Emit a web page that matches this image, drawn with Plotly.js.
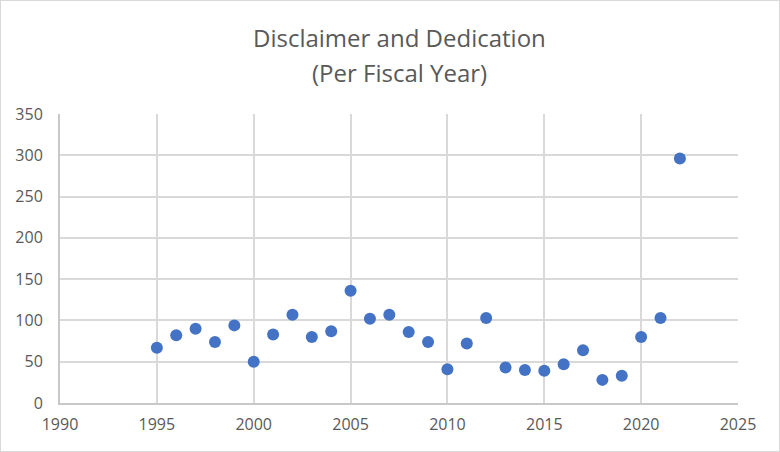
<!DOCTYPE html>
<html>
<head>
<meta charset="utf-8">
<script src="https://cdn.plot.ly/plotly-3.0.1.min.js"></script>
<style>
  html, body { margin: 0; padding: 0; background: #fff; }
  #wrap { position: relative; width: 780px; height: 452px; }
  #chart { width: 780px; height: 452px; }
  #frame { position: absolute; left: 0; top: 0; width: 780px; height: 452px; box-sizing: border-box; border: 1px solid #d9d9d9; pointer-events: none; }
</style>
</head>
<body>
<div id="wrap"><div id="chart"></div><div id="frame"></div></div>
<script>
const years = [1995, 1996, 1997, 1998, 1999, 2000, 2001, 2002, 2003, 2004, 2005, 2006, 2007, 2008, 2009, 2010, 2011, 2012, 2013, 2014, 2015, 2016, 2017, 2018, 2019, 2020, 2021, 2022];
const counts = [67, 82, 90, 74, 94, 50, 83, 107, 80, 87, 136, 102, 107, 86, 74, 41, 72, 103, 43, 40, 39, 47, 64, 28, 33, 80, 103, 296];
const titleLines = ["Disclaimer and Dedication", "(Per Fiscal Year)"];

const fontFam = "'Open Sans', 'Noto Sans', sans-serif";
const textColor = "#595959";

const W = 780, H = 452;
const M = { l: 60, r: 42, t: 114, b: 49 };
const plotH = H - M.t - M.b;
const titleCentersPx = [37, 72];

const trace = {
  type: "scatter",
  mode: "markers",
  x: years,
  y: counts,
  marker: { color: "#4472C4", size: 12, line: { width: 0 } },
  hoverinfo: "x+y"
};

const annotations = titleLines.map((t, i) => ({
  text: t,
  xref: "paper",
  yref: "paper",
  x: 0.5,
  y: 1 + (M.t - titleCentersPx[i]) / plotH,
  xanchor: "center",
  yanchor: "middle",
  showarrow: false,
  font: { family: fontFam, size: 24, color: textColor }
}));

const layout = {
  width: W,
  height: H,
  margin: M,
  paper_bgcolor: "#ffffff",
  plot_bgcolor: "#ffffff",
  showlegend: false,
  annotations: annotations,
  xaxis: {
    range: [1990, 2025],
    tick0: 1990,
    dtick: 5,
    showgrid: true,
    gridcolor: "#d9d9d9",
    gridwidth: 2,
    zeroline: false,
    showline: true,
    linecolor: "#c8c8c8",
    linewidth: 2,
    mirror: false,
    ticks: "",
    ticklabelstandoff: 6,
    tickfont: { family: fontFam, size: 16, color: textColor },
    fixedrange: true
  },
  yaxis: {
    range: [0, 350],
    tick0: 0,
    dtick: 50,
    showgrid: true,
    gridcolor: "#d9d9d9",
    gridwidth: 2,
    zeroline: false,
    showline: true,
    linecolor: "#c8c8c8",
    linewidth: 2,
    ticks: "",
    ticklabelstandoff: 12,
    tickfont: { family: fontFam, size: 16, color: textColor },
    fixedrange: true
  }
};

Plotly.newPlot("chart", [trace], layout, { displayModeBar: false, staticPlot: true });
</script>
</body>
</html>
